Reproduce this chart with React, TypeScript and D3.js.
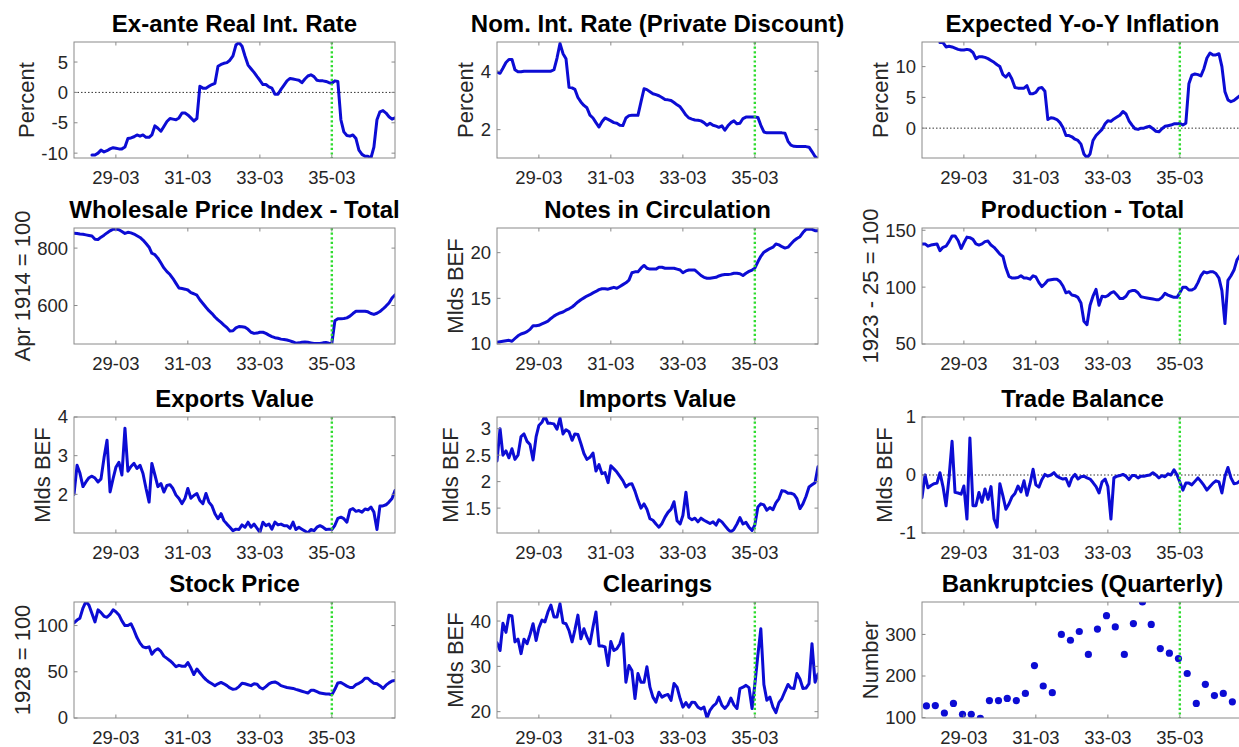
import React from 'react';
import * as d3 from 'd3';

// ---------- time axis ----------
const START = new Date(1928, 0, 1);
const END = new Date(1936, 11, 1);
const xTickDates = [new Date(1929, 2, 1), new Date(1931, 2, 1), new Date(1933, 2, 1), new Date(1935, 2, 1)];
const devaluationDate = new Date(1935, 2, 1);

// ---------- data (monthly, index 0 = Jan 1928) ----------
const realRateStart = 6;
const realRate = [-10.3, -10.3, -10.0, -9.5, -9.8, -9.6, -9.3, -9.1, -9.2, -9.3, -9.3, -9.0, -7.6, -7.5, -7.3, -7.0, -7.2, -7.0, -7.4, -7.4,
  -7.0, -5.5, -5.9, -6.4, -5.6, -4.8, -4.3, -4.4, -4.5, -4.2, -3.4, -3.4, -3.7, -4.2, -4.7, -4.3, 1.0, 0.7, 0.7, 1.0,
  1.3, 1.5, 4.3, 4.6, 4.8, 4.9, 5.3, 6.0, 7.8, 8.2, 7.6, 6.0, 4.5, 3.9, 3.3, 2.6, 2.0, 1.3, 1.3, 0.9,
  0.7, -0.3, -0.3, 0.5, 1.2, 1.9, 2.3, 2.2, 2.1, 2.0, 1.6, 2.2, 2.7, 2.9, 2.6, 2.0, 1.9, 1.9, 1.8, 1.6,
  1.5, 1.9, 1.8, -4.5, -6.5, -7.1, -7.2, -7.0, -7.6, -9.5, -10.2, -10.5, -10.5, -10.8, -9.0, -4.5, -3.2, -3.0, -3.4, -4.0,
  -4.4, -4.2];

const nomRateStart = 0;
const nomRate = [3.97, 3.93, 4.1, 4.3, 4.4, 4.4, 4.05, 3.98, 3.98, 4.0,
  4.0, 4.0, 4.0, 4.0, 4.0, 4.0, 4.0, 4.0, 4.0, 4.05,
  4.45, 4.95, 4.6, 4.43, 3.45, 3.43, 3.38, 3.1, 2.95, 2.83,
  2.75, 2.5, 2.4, 2.24, 2.09, 2.27, 2.4, 2.35, 2.3, 2.24,
  2.22, 2.15, 2.14, 2.4, 2.48, 2.49, 2.49, 2.49, 2.95, 3.4,
  3.37, 3.3, 3.23, 3.2, 3.16, 3.1, 3.03, 3.02, 3.0, 2.93,
  2.85, 2.78, 2.65, 2.5, 2.4, 2.36, 2.33, 2.32, 2.3, 2.24,
  2.15, 2.22, 2.15, 2.12, 2.08, 2.13, 1.98, 2.13, 2.24, 2.3,
  2.2, 2.22, 2.38, 2.43, 2.43, 2.43, 2.43, 2.42, 2.15, 1.92,
  1.89, 1.89, 1.89, 1.89, 1.89, 1.89, 1.88, 1.6, 1.47, 1.43,
  1.42, 1.42, 1.42, 1.42, 1.4, 1.25, 1.08, 1.0];

const expInflStart = 6;
const expInfl = [13.9, 13.9, 13.2, 13.3, 13.2, 13.0, 12.8, 12.7, 12.7, 12.8, 12.7, 12.3, 11.3, 11.6, 11.6, 11.5, 11.3, 11.0, 10.7, 10.3,
  10.0, 8.7, 8.3, 8.9, 8.0, 6.6, 6.5, 6.5, 6.5, 6.9, 5.6, 5.6, 5.8, 6.5, 6.6, 6.0, 1.4, 1.7, 1.6, 1.4,
  0.9, 0.1, -1.2, -1.2, -1.4, -1.8, -2.0, -2.6, -4.2, -4.8, -4.2, -2.0, -1.2, -0.7, -0.2, 0.7, 1.2, 1.1, 1.5, 1.8,
  2.1, 2.7, 2.3, 1.2, 0.5, -0.1, -0.2, 0.0, 0.0, 0.2, 0.3, -0.1, -0.5, -0.6, -0.1, 0.3, 0.4, 0.5, 0.7, 0.7,
  0.8, 0.5, 0.8, 7.2, 8.6, 8.8, 8.7, 8.5, 9.7, 11.4, 12.2, 11.9, 11.9, 12.1, 10.0, 5.9, 4.6, 4.3, 4.5, 4.9,
  5.3, 5.5];

const wpiStart = 0;
const wpi = [852, 851, 849, 848, 846, 844, 842, 831, 830, 838,
  845, 853, 860, 866, 866, 864, 858, 851, 855, 853,
  849, 843, 837, 828, 816, 803, 782, 777, 765, 748,
  731, 718, 708, 694, 677, 661, 659, 657, 654, 645,
  641, 636, 620, 607, 594, 582, 572, 560, 550, 541,
  532, 523, 511, 512, 522, 527, 526, 524, 517, 507,
  503, 504, 507, 507, 503, 497, 492, 488, 486, 483,
  482, 480, 477, 473, 469, 470, 472, 473, 472, 470,
  468, 468, 468, 470, 471, 469, 468, 547, 554, 554,
  555, 557, 563, 572, 580, 580, 580, 580, 578, 572,
  569, 573, 579, 588, 598, 609, 626, 637];

const notesStart = 0;
const notes = [10.2, 10.25, 10.3, 10.35, 10.4, 10.3, 10.6, 10.9, 11.1, 11.2,
  11.35, 11.6, 12.0, 12.0, 12.05, 12.2, 12.35, 12.5, 12.8, 13.05,
  13.25, 13.4, 13.5, 13.7, 13.85, 14.05, 14.3, 14.6, 14.85, 15.05,
  15.25, 15.4, 15.6, 15.75, 15.95, 16.05, 16.05, 16.0, 16.1, 16.2,
  16.1, 16.3, 16.5, 16.7, 17.0, 17.8, 17.9, 17.9, 18.3, 18.6,
  18.3, 18.2, 18.2, 18.2, 18.4, 18.4, 18.3, 18.3, 18.3, 18.3,
  18.2, 18.1, 17.8, 18.0, 18.1, 18.1, 18.1, 17.8, 17.5, 17.3,
  17.2, 17.2, 17.25, 17.3, 17.45, 17.55, 17.6, 17.6, 17.65, 17.75,
  17.75, 17.7, 17.5, 17.75, 17.95, 18.1, 18.3, 19.0, 19.6, 20.05,
  20.25, 20.45, 20.6, 20.95, 20.85, 20.65, 20.5, 20.6, 20.95, 21.3,
  21.55, 21.75, 22.2, 22.55, 22.6, 22.55, 22.4, 22.4];

const productionStart = 0;
const production = [138, 138, 136, 137, 137.5, 138, 132, 135, 136, 140,
  145, 145, 141, 134, 139, 144, 143.5, 142, 138, 137,
  138, 140, 140.5, 137, 135, 132, 129, 127, 117, 109.5,
  108, 108, 108.5, 110, 108, 108, 107, 110, 109, 104,
  100.5, 103, 106, 106.5, 107, 107, 105, 101, 95, 96,
  93, 92.5, 91, 86, 70, 67, 84, 92, 98, 84,
  92, 91.5, 92.5, 95, 96, 93, 90, 90, 92, 96,
  97, 97, 95, 91.5, 91, 90.5, 90, 89.5, 89, 89,
  91, 94.5, 93, 92, 91, 91, 95, 100, 100, 97.5,
  97.5, 99, 104, 110, 113.5, 112.5, 113.5, 113.5, 112, 108,
  97, 68, 106, 110, 115, 124, 128, 130];

const exportsStart = 0;
const exportsValue = [2.0, 2.75, 2.55, 2.2, 2.32, 2.43, 2.47, 2.42, 2.32, 2.4,
  2.95, 3.4, 2.06, 2.41, 2.7, 2.83, 2.5, 3.71, 2.6, 2.72,
  2.8, 2.67, 2.75, 2.54, 2.15, 1.8, 2.8, 2.5, 2.2, 2.28,
  2.06, 2.23, 2.25, 2.15, 1.98, 1.89, 1.76, 1.9, 2.15, 1.9,
  1.97, 2.02, 1.84, 1.76, 2.02, 1.8, 1.7, 1.5, 1.37, 1.5,
  1.32, 1.23, 1.15, 1.06, 1.1, 1.09, 1.21, 1.15, 1.28, 1.15,
  1.23, 1.12, 1.02, 1.28, 1.19, 1.23, 1.1, 1.28, 1.21, 1.23,
  1.19, 1.19, 1.12, 1.28, 1.09, 1.15, 1.1, 1.05, 1.0, 1.09,
  1.06, 1.15, 1.19, 1.15, 1.09, 1.1, 1.09, 1.2, 1.38, 1.41,
  1.37, 1.28, 1.6, 1.63, 1.56, 1.58, 1.54, 1.62, 1.6, 1.67,
  1.54, 1.09, 1.7, 1.7, 1.73, 1.8, 1.89, 2.1];

const importsStart = 0;
const importsValue = [2.39, 3.0, 2.5, 2.58, 2.45, 2.62, 2.42, 2.5, 2.85, 2.9,
  2.76, 2.7, 2.41, 2.85, 3.06, 3.12, 3.24, 3.1, 3.1, 3.09,
  2.99, 3.2, 2.9, 2.98, 2.94, 2.78, 2.9, 2.89, 2.72, 2.53,
  2.42, 2.46, 2.54, 2.2, 2.32, 2.15, 2.17, 1.98, 2.3, 2.24,
  2.18, 2.1, 2.02, 1.9, 1.95, 1.96, 1.82, 1.65, 1.5, 1.58,
  1.48, 1.3, 1.27, 1.2, 1.14, 1.21, 1.33, 1.42, 1.48, 1.62,
  1.26, 1.2, 1.36, 1.8, 1.32, 1.28, 1.31, 1.24, 1.31, 1.27,
  1.24, 1.21, 1.24, 1.18, 1.28, 1.24, 1.17, 1.1, 1.05, 1.1,
  1.2, 1.32, 1.2, 1.23, 1.14, 1.08, 1.18, 1.52, 1.58, 1.56,
  1.46, 1.51, 1.47, 1.6, 1.68, 1.83, 1.82, 1.78, 1.78, 1.76,
  1.68, 1.49, 1.58, 1.72, 1.9, 1.94, 1.98, 2.28];

const tradeStart = 0;
const tradeBalance = [-0.39, 0.0, -0.22, -0.18, -0.15, -0.14, 0.04, -0.2, -0.53, -0.05,
  0.58, -0.3, -0.31, -0.33, -0.19, -0.76, 0.64, -0.53, -0.53, -0.3,
  -0.47, -0.24, -0.42, -0.2, -0.76, -0.9, -0.15, -0.36, -0.59, -0.5,
  -0.38, -0.32, -0.19, -0.29, -0.1, -0.35, -0.15, 0.1, -0.17, -0.21,
  -0.08, 0.01, -0.02, 0.0, 0.04, -0.02, -0.05, -0.07, -0.06, -0.19,
  -0.05, 0.01, -0.07, -0.03, -0.02, -0.05, -0.07, -0.13, -0.2, -0.31,
  -0.12, -0.07, -0.2, -0.76, -0.05, -0.02, -0.01, 0.01, -0.02, -0.08,
  -0.01, -0.01, -0.05, -0.02, -0.02, -0.01, 0.0, 0.04, 0.0, -0.05,
  -0.01, -0.03, 0.02, 0.0, 0.09, 0.0, -0.12, -0.26, -0.14, -0.14,
  -0.17, -0.11, -0.05, -0.11, -0.18, -0.26, -0.2, -0.14, -0.1, -0.12,
  -0.31, -0.02, 0.13, -0.05, -0.15, -0.14, -0.1, -0.1];

const stockStart = 0;
const stockPrice = [103, 106, 108, 119, 126, 122, 113, 104, 117, 114,
  110, 109, 112, 117, 115, 111.5, 105, 100, 100, 102,
  95, 87, 81, 77, 76, 77, 69, 73, 75, 72,
  67, 64.5, 62, 59, 55.5, 57, 56, 56, 60, 54,
  47, 53, 49, 45, 41.5, 39, 37, 35, 37, 38.5,
  37, 35, 32.5, 31, 31.5, 34, 37.5, 37, 36, 35,
  37, 36.5, 33, 31.5, 34, 37, 38.5, 39, 37.5, 35,
  34, 33, 32.5, 32, 31, 30, 29, 28, 27, 30,
  30, 28.5, 27, 26.5, 26, 26, 25, 31, 38, 38.5,
  36.5, 34.5, 33, 33, 36, 37.5, 39.5, 43, 43, 40,
  37.5, 37, 35, 32, 35.5, 38, 40, 40.5];

const clearingsStart = 0;
const clearings = [35.2, 33.5, 39.5, 37.5, 41.3, 41.1, 35.4, 36, 32.8, 36,
  35, 37, 39.4, 35.7, 38.5, 40.2, 39.8, 42, 43.5, 40.9,
  40.9, 43.8, 39.6, 39.4, 37.9, 35.4, 38, 41.3, 36.1, 38.3,
  36.5, 35, 38.7, 42, 34.5, 34.5, 34.3, 30.2, 35.5, 33.5,
  33.9, 35, 37.2, 26.5, 30.2, 29.1, 22.9, 28.4, 26.5, 26.5,
  29.9, 25.4, 23.2, 22.1, 24.3, 23.2, 23.6, 23.8, 22.5, 26.2,
  25.4, 22.9, 21, 22, 21, 22.1, 22, 21, 20.6, 21,
  18.6, 20.3, 21.2, 21.8, 23.2, 21.4, 20.7, 21.5, 23, 21.5,
  20.7, 25.1, 25.4, 25.8, 25.3, 20.7, 26, 32.5, 38.3, 26,
  22.5, 23.2, 21, 19.8, 22, 22.9, 24.5, 26, 25.2, 25.1,
  28.4, 27.2, 25.1, 25.2, 26.2, 35, 26.5, 28.3];

// quarterly, index 0 = 1928Q1
const bankruptcies = [128, 129, 111, 134, 108, 108, 98, 141, 141, 146,
  141, 158, 225, 176, 160, 300, 286, 307, 252, 313,
  345, 318, 252, 326, 378, 324, 266, 255, 242, 206,
  134, 180, 153, 158, 138];

// ---------- panel definitions ----------
const titles = ['Ex-ante Real Int. Rate', 'Nom. Int. Rate (Private Discount)', 'Expected Y-o-Y Inflation',
  'Wholesale Price Index - Total', 'Notes in Circulation', 'Production - Total',
  'Exports Value', 'Imports Value', 'Trade Balance',
  'Stock Price', 'Clearings', 'Bankruptcies (Quarterly)'];
const yLabels = ['Percent', 'Percent', 'Percent', 'Apr 1914 = 100', 'Mlds BEF', '1923 - 25 = 100',
  'Mlds BEF', 'Mlds BEF', 'Mlds BEF', '1928 = 100', 'Mlds BEF', 'Number'];
const yDomains = [[-10.8, 8.3], [1.03, 5.0], [-4.85, 14.0], [466, 870], [10.0, 22.7], [50, 152],
  [1.0, 4.0], [1.03, 3.22], [-1, 1], [0, 125.5], [18.6, 44.2], [99, 378]];
const yTicks = [[-10, -5, 0, 5], [2, 4], [0, 5, 10], [600, 800], [10, 15, 20], [50, 100, 150],
  [2, 3, 4], [1.5, 2, 2.5, 3], [-1, 0, 1], [0, 50, 100], [20, 30, 40], [100, 200, 300]];
const seriesList = [realRate, nomRate, expInfl, wpi, notes, production, exportsValue, importsValue, tradeBalance, stockPrice, clearings, null];
const seriesStarts = [realRateStart, nomRateStart, expInflStart, wpiStart, notesStart, productionStart,
  exportsStart, importsStart, tradeStart, stockStart, clearingsStart, 0];
const zeroLine = [true, false, true, false, false, false, false, false, true, false, false, false];

// ---------- layout ----------
const COL_LEFT = [74, 497, 922];
const ROW_TOP = [42, 228, 417, 602];
const W = 321;
const H = 116;
const FONT = '"Liberation Sans", Arial, Helvetica, sans-serif';
const LINE_COLOR = '#0c0cd4';
const AXIS_COLOR = '#8a8a8a';
const TEXT_COLOR = '#262626';
const TICK_FS = 18.5;
const LABEL_FS = 22;
const TITLE_FS = 24;

function textWidth(s: string, fs: number) {
  let w = 0;
  for (const c of s) {
    if (c === '-') w += 0.333;
    else if (c === '.') w += 0.278;
    else w += 0.556;
  }
  return w * fs;
}

function Panel({ idx }: { idx: number }) {
  const col = idx % 3;
  const row = Math.floor(idx / 3);
  const left = COL_LEFT[col];
  const top = ROW_TOP[row];
  const x = d3.scaleTime().domain([START, END]).range([0, W]);
  const y = d3.scaleLinear().domain(yDomains[idx]).range([H, 0]);
  const data = seriesList[idx];
  const start = seriesStarts[idx];
  const clipId = `clip-${idx}`;

  let path: string | null = null;
  if (data) {
    const gen = d3.line<number>()
      .x((_, i) => x(d3.timeMonth.offset(START, start + i)))
      .y((d) => y(d));
    path = gen(data);
  }
  const ticks = yTicks[idx];
  const maxTickW = Math.max(...ticks.map((t) => textWidth(String(t), TICK_FS)));
  const ylabelX = -6 - maxTickW - 15;
  const fmt = d3.timeFormat('%y-%m');
  const xd = x(devaluationDate);

  return (
    <g transform={`translate(${left},${top})`}>
      <defs>
        <clipPath id={clipId}>
          <rect x={0} y={0} width={W} height={H} />
        </clipPath>
      </defs>
      <text x={W / 2} y={-10} textAnchor="middle" fontFamily={FONT} fontWeight="bold" fontSize={TITLE_FS} fill="#000">
        {titles[idx]}
      </text>
      {zeroLine[idx] && (
        <line x1={0} x2={W} y1={y(0)} y2={y(0)} stroke="#333" strokeWidth={1} strokeDasharray="1.5 2" />
      )}
      <g clipPath={`url(#${clipId})`}>
        {path && <path d={path} fill="none" stroke={LINE_COLOR} strokeWidth={3} strokeLinejoin="round" strokeLinecap="round" />}
        {idx === 11 && bankruptcies.map((v, i) => (
          <circle key={i} cx={x(new Date(1928, 3 * i + 1, 15))} cy={y(v)} r={3.6} fill={LINE_COLOR} />
        ))}
      </g>
      <line x1={xd} x2={xd} y1={0} y2={H} stroke="#2fdc2f" strokeWidth={2.4} strokeDasharray="2.2 2.4" />
      <rect x={0} y={0} width={W} height={H} fill="none" stroke={AXIS_COLOR} strokeWidth={1} />
      {xTickDates.map((d, i) => (
        <g key={i}>
          <line x1={x(d)} x2={x(d)} y1={H} y2={H - 3.5} stroke={AXIS_COLOR} />
          <line x1={x(d)} x2={x(d)} y1={0} y2={3.5} stroke={AXIS_COLOR} />
          <text x={x(d)} y={H + 26} textAnchor="middle" fontFamily={FONT} fontSize={TICK_FS} fill={TEXT_COLOR}>
            {fmt(d)}
          </text>
        </g>
      ))}
      {ticks.map((t, i) => (
        <g key={i}>
          <line x1={0} x2={3.5} y1={y(t)} y2={y(t)} stroke={AXIS_COLOR} />
          <line x1={W} x2={W - 3.5} y1={y(t)} y2={y(t)} stroke={AXIS_COLOR} />
          <text x={-6} y={y(t)} dy="0.35em" textAnchor="end" fontFamily={FONT} fontSize={TICK_FS} fill={TEXT_COLOR}>
            {String(t)}
          </text>
        </g>
      ))}
      <text
        transform={`translate(${ylabelX},${H / 2}) rotate(-90)`}
        textAnchor="middle"
        dy="0.35em"
        fontFamily={FONT}
        fontSize={LABEL_FS}
        fill={TEXT_COLOR}
      >
        {yLabels[idx]}
      </text>
    </g>
  );
}

export default function App() {
  return (
    <svg width={1239} height={747} style={{ position: 'absolute', left: 0, top: 0, background: '#fff' }}>
      <rect x={0} y={0} width={1239} height={747} fill="#fff" />
      {titles.map((_, i) => (
        <Panel key={i} idx={i} />
      ))}
    </svg>
  );
}
